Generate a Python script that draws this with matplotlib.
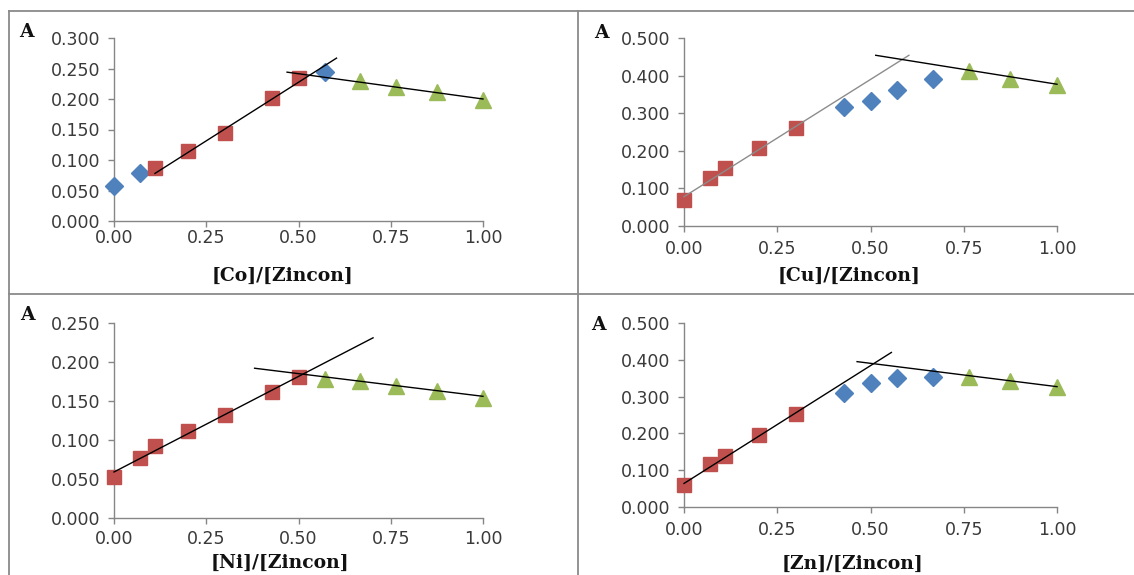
import matplotlib
matplotlib.use("Agg")
import matplotlib.pyplot as plt
from matplotlib.lines import Line2D

# mole ratio [M]/[Zincon]
x_ratio = [0.0, 0.071, 0.111, 0.2, 0.3, 0.429, 0.5, 0.571, 0.667, 0.765, 0.875, 1.0]

# --- Co ---
co_diam_x = [0.0, 0.071, 0.571]
co_diam_y = [0.058, 0.078, 0.244]
co_sq_x = [0.111, 0.2, 0.3, 0.429, 0.5]
co_sq_y = [0.087, 0.114, 0.144, 0.202, 0.234]
co_tri_x = [0.667, 0.765, 0.875, 1.0]
co_tri_y = [0.229, 0.219, 0.211, 0.199]
co_rise = ([0.111, 0.603], [0.078, 0.267])
co_fall = ([0.469, 1.0], [0.244, 0.200])

# --- Cu ---
cu_sq_x = [0.0, 0.071, 0.111, 0.2, 0.3]
cu_sq_y = [0.070, 0.127, 0.155, 0.208, 0.261]
cu_diam_x = [0.429, 0.5, 0.571, 0.667]
cu_diam_y = [0.317, 0.332, 0.361, 0.391]
cu_tri_x = [0.765, 0.875, 1.0]
cu_tri_y = [0.412, 0.391, 0.376]
cu_rise = ([0.0, 0.603], [0.078, 0.454])
cu_fall = ([0.514, 1.0], [0.454, 0.377])

# --- Ni ---
ni_sq_x = [0.0, 0.071, 0.111, 0.2, 0.3, 0.429, 0.5]
ni_sq_y = [0.053, 0.077, 0.092, 0.111, 0.132, 0.161, 0.181]
ni_tri_x = [0.571, 0.667, 0.765, 0.875, 1.0]
ni_tri_y = [0.178, 0.176, 0.169, 0.163, 0.154]
ni_rise = ([0.0, 0.702], [0.059, 0.231])
ni_fall = ([0.381, 1.0], [0.192, 0.156])

# --- Zn ---
zn_sq_x = [0.0, 0.071, 0.111, 0.2, 0.3]
zn_sq_y = [0.059, 0.116, 0.139, 0.197, 0.252]
zn_diam_x = [0.429, 0.5, 0.571, 0.667]
zn_diam_y = [0.309, 0.336, 0.350, 0.354]
zn_tri_x = [0.765, 0.875, 1.0]
zn_tri_y = [0.352, 0.342, 0.325]
zn_rise = ([0.0, 0.556], [0.064, 0.420])
zn_fall = ([0.464, 1.0], [0.395, 0.327])

x_ticks = [0.0, 0.25, 0.5, 0.75, 1.0]

BLUE = "#4F81BD"
RED = "#C0504D"
GREEN = "#9BBB59"
AXIS = "#868686"

W, H = 1134, 575
fig = plt.figure(figsize=(W / 100, H / 100), dpi=100)


def px_axes(left, top, right, bottom):
    return fig.add_axes([left / W, 1 - bottom / H, (right - left) / W, (bottom - top) / H])


def style(ax, ymax, ystep, xpad=5):
    ax.set_xlim(0, 1.0)
    ax.set_ylim(0, ymax)
    ax.set_xticks(x_ticks)
    ax.set_xticklabels([f"{t:.2f}" for t in x_ticks])
    n = int(round(ymax / ystep))
    yt = [i * ystep for i in range(n + 1)]
    ax.set_yticks(yt)
    ax.set_yticklabels([f"{v:.3f}" for v in yt])
    for s in ("top", "right"):
        ax.spines[s].set_visible(False)
    for s in ("left", "bottom"):
        ax.spines[s].set_color(AXIS)
        ax.spines[s].set_linewidth(1.0)
    ax.tick_params(axis="both", colors=AXIS, labelcolor="#3a3a3a", labelsize=12.5,
                   direction="out", length=4, width=1.0)
    ax.tick_params(axis="y", pad=6)
    ax.tick_params(axis="x", pad=xpad)
    for lbl in ax.get_xticklabels() + ax.get_yticklabels():
        lbl.set_fontfamily("DejaVu Sans")
    ax.patch.set_alpha(0)


def pts(ax, xs, ys, kind):
    if kind == "D":
        ax.plot(xs, ys, "D", color=BLUE, ms=9, mec=BLUE, zorder=4, clip_on=False)
    elif kind == "s":
        ax.plot(xs, ys, "s", color=RED, ms=10.5, mec=RED, zorder=4, clip_on=False)
    else:
        ax.plot(xs, ys, "^", color=GREEN, ms=11, mec=GREEN, zorder=4, clip_on=False)


def trend(ax, seg, color="black", lw=1.0):
    ax.plot(seg[0], seg[1], "-", color=color, lw=lw, zorder=5, clip_on=False)


# Co panel
ax1 = px_axes(114, 38, 483, 221)
style(ax1, 0.300, 0.050, xpad=2)
pts(ax1, co_diam_x, co_diam_y, "D")
pts(ax1, co_sq_x, co_sq_y, "s")
pts(ax1, co_tri_x, co_tri_y, "^")
trend(ax1, co_rise)
trend(ax1, co_fall)

# Cu panel
ax2 = px_axes(684, 38, 1057, 226)
style(ax2, 0.500, 0.100, xpad=6)
pts(ax2, cu_sq_x, cu_sq_y, "s")
pts(ax2, cu_diam_x, cu_diam_y, "D")
pts(ax2, cu_tri_x, cu_tri_y, "^")
trend(ax2, cu_rise, color="#8C8C8C")
trend(ax2, cu_fall)

# Ni panel
ax3 = px_axes(114, 323, 483, 518)
style(ax3, 0.250, 0.050, xpad=5)
pts(ax3, ni_sq_x, ni_sq_y, "s")
pts(ax3, ni_tri_x, ni_tri_y, "^")
trend(ax3, ni_rise)
trend(ax3, ni_fall)

# Zn panel
ax4 = px_axes(684, 323, 1057, 507)
style(ax4, 0.500, 0.100, xpad=6)
pts(ax4, zn_sq_x, zn_sq_y, "s")
pts(ax4, zn_diam_x, zn_diam_y, "D")
pts(ax4, zn_tri_x, zn_tri_y, "^")
trend(ax4, zn_rise)
trend(ax4, zn_fall)

# panel labels (A = absorbance) and x-axis titles
serif_bold = dict(family="DejaVu Serif", fontweight="bold", color="#111111")
for (x, y) in [(26, 32), (601, 33), (27, 315), (598, 325)]:
    fig.text(x / W, 1 - y / H, "A", fontsize=13.5, ha="center", va="center", **serif_bold)
for (x, y, s) in [(283, 276, "[Co]/[Zincon]"), (849, 276, "[Cu]/[Zincon]"),
                  (280, 563, "[Ni]/[Zincon]"), (852, 564, "[Zn]/[Zincon]")]:
    fig.text(x / W, 1 - y / H, s, fontsize=13.5, ha="center", va="center", **serif_bold)

# panel frame lines
frame = dict(color="#8a8a8a", lw=1.3, transform=fig.transFigure)
fig.add_artist(Line2D([9 / W, 1], [1 - 10.5 / H] * 2, **frame))
fig.add_artist(Line2D([9 / W] * 2, [0, 1 - 10.5 / H], **frame))
fig.add_artist(Line2D([578 / W] * 2, [0, 1 - 10.5 / H], **frame))
fig.add_artist(Line2D([9 / W, 1], [1 - 294 / H] * 2, **frame))

fig.savefig("out.png", dpi=100, facecolor="white")
